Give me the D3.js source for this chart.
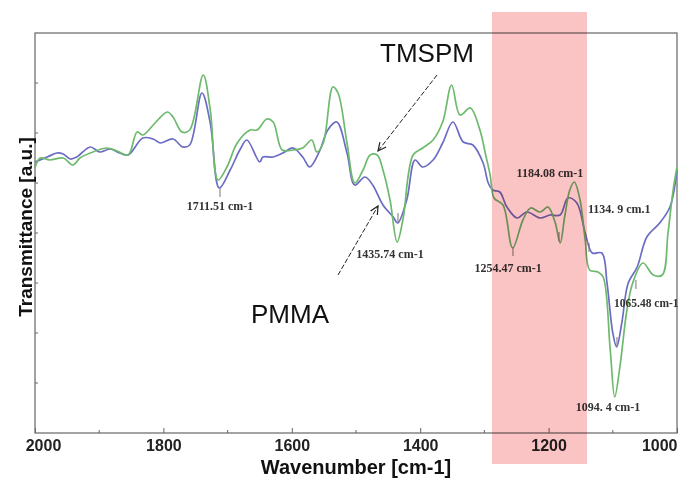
<!DOCTYPE html>
<html>
<head>
<meta charset="utf-8">
<script src="https://cdn.jsdelivr.net/npm/d3@7"></script>
<style>
  body { margin: 0; background: #fff; }
  svg { display: block; }
  .axis path, .axis line { stroke: #666; }
  .axis text { font-family: "Liberation Sans", Arial, sans-serif; font-weight: bold; font-size: 16px; fill: #222; }
  .peak { font-family: "Liberation Serif", "Times New Roman", serif; font-weight: bold; font-size: 12px; fill: #333; }
  .name { font-family: "Liberation Sans", Arial, sans-serif; font-size: 26px; fill: #111; }
  .title { font-family: "Liberation Sans", Arial, sans-serif; font-weight: bold; font-size: 20px; fill: #111; }
</style>
</head>
<body>
<svg id="chart" width="678" height="481"></svg>
<script>
"use strict";

// PMMA spectrum (blue), [wavenumber, transmittance a.u.]
var pmmaWn  = [2000, 1981, 1966, 1956, 1945, 1935, 1914, 1899, 1883, 1868, 1855, 1832, 1816, 1805, 1785, 1770, 1759,
               1740, 1727, 1713, 1696, 1681, 1670, 1650, 1645, 1629, 1614, 1598, 1583, 1572, 1556, 1544, 1530, 1514,
               1502, 1486, 1474, 1458, 1442, 1435, 1421, 1408, 1396, 1380, 1365, 1349, 1333, 1318, 1302, 1294, 1287,
               1276, 1265, 1249, 1234, 1213, 1198, 1182, 1170, 1156, 1143, 1132, 1117, 1109, 1100, 1094, 1086, 1076,
               1062, 1047, 1027, 1011, 1000];
var pmmaVal = [5.42, 5.52, 5.60, 5.58, 5.48, 5.52, 5.72, 5.62, 5.68, 5.60, 5.56, 5.90, 5.88, 5.80, 5.88, 5.72, 5.76,
               6.80, 6.20, 4.90, 5.26, 5.66, 5.86, 5.42, 5.52, 5.52, 5.60, 5.70, 5.52, 5.32, 5.66, 6.06, 6.22, 5.60,
               4.96, 5.12, 4.96, 4.56, 4.32, 4.20, 4.66, 5.46, 5.32, 5.46, 5.80, 6.22, 5.82, 5.76, 5.40, 5.00, 4.86,
               4.82, 4.52, 4.30, 4.42, 4.30, 4.36, 4.36, 4.70, 4.60, 4.00, 3.60, 3.60, 3.00, 2.00, 1.72, 2.20, 3.00,
               3.32, 3.92, 4.20, 4.52, 5.26];

// TMSPM spectrum (green)
var tmspmWn  = [2000, 1992, 1977, 1956, 1941, 1930, 1914, 1888, 1872, 1855, 1841, 1832, 1813, 1794, 1785, 1771, 1759,
                1738, 1727, 1715, 1701, 1685, 1665, 1654, 1639, 1629, 1615, 1598, 1583, 1569, 1561, 1551, 1536, 1528,
                1514, 1502, 1489, 1478, 1467, 1458, 1447, 1436, 1427, 1411, 1396, 1380, 1365, 1351, 1338, 1322, 1307,
                1298, 1291, 1285, 1271, 1256, 1240, 1228, 1213, 1201, 1190, 1182, 1175, 1167, 1160, 1151, 1143, 1136,
                1123, 1115, 1104, 1097, 1089, 1078, 1069, 1053, 1037, 1023, 1014, 1006, 1000];
var tmspmVal = [5.30, 5.50, 5.46, 5.50, 5.36, 5.50, 5.60, 5.70, 5.64, 5.56, 6.02, 5.96, 6.20, 6.42, 6.32, 6.02, 6.06,
                7.16, 6.46, 5.06, 5.32, 5.80, 6.06, 6.06, 6.28, 6.22, 5.66, 5.66, 5.70, 5.86, 5.62, 5.80, 6.92, 6.80,
                5.80, 5.00, 5.26, 5.56, 5.56, 5.26, 4.66, 3.82, 4.26, 5.56, 5.70, 5.86, 6.22, 6.96, 6.36, 6.50, 6.06,
                5.56, 5.16, 4.70, 4.56, 3.70, 4.26, 4.50, 4.42, 4.52, 4.22, 3.80, 4.32, 4.86, 5.02, 4.66, 3.86, 3.26,
                3.22, 3.12, 1.66, 0.72, 1.32, 2.46, 3.00, 3.40, 3.16, 3.16, 4.00, 4.86, 5.32];

// peak annotations
var peakText  = ["1711.51 cm-1", "1435.74 cm-1", "1254.47 cm-1", "1184.08 cm-1", "1134. 9 cm.1", "1065.48 cm-1", "1094. 4 cm-1"];
var peakMark  = [1711.8, 1434.6, 1255.5, 1183.8, 1137, 1064, 1093.5];
var peakTop   = [4.90, 4.40, 3.72, 4.02, 3.80, 3.06, 1.92];
var labelWn   = [1711.8, 1447, 1263, 1198, 1090, 1098, 1107.5];
var labelVal  = [4.46, 3.50, 3.22, 5.12, 4.40, 2.52, 0.44];

var majorTicks = [2000, 1800, 1600, 1400, 1200, 1000];
var minorTicks = [1900, 1700, 1500, 1300, 1100];
var yTicks = [1, 2, 3, 4, 5, 6, 7];

// highlighted band
var band = [1288.2, 1140.2];

var svg = d3.select("#chart");
var W = 678, H = 481;
var frame = { x0: 35, x1: 677, y0: 33, y1: 433 };

var x = d3.scaleLinear().domain([2000, 1000]).range([frame.x0, frame.x1]);
var y = d3.scaleLinear().domain([0, 8]).range([frame.y1, frame.y0]);

svg.append("rect").attr("width", W).attr("height", H).attr("fill", "#fff");

// frame
svg.append("rect")
  .attr("x", frame.x0).attr("y", frame.y0)
  .attr("width", frame.x1 - frame.x0).attr("height", frame.y1 - frame.y0)
  .attr("fill", "none").attr("stroke", "#666").attr("stroke-width", 1.2);

// x axis
var xAxis = d3.axisBottom(x).tickValues(majorTicks).tickFormat(d3.format("d"))
  .tickSizeInner(-5).tickSizeOuter(0).tickPadding(7);
var gx = svg.append("g").attr("class", "axis").attr("transform", "translate(0," + frame.y1 + ")").call(xAxis);
gx.select(".domain").remove();
gx.selectAll(".tick text").filter(function(d) { return d === 1000; }).attr("text-anchor", "end");
gx.selectAll(".tick text").filter(function(d) { return d === 2000; }).attr("dx", 8);

svg.append("g").selectAll("line").data(minorTicks).enter().append("line")
  .attr("x1", function(d) { return x(d); }).attr("x2", function(d) { return x(d); })
  .attr("y1", frame.y1).attr("y2", frame.y1 - 3)
  .attr("stroke", "#666");

// y ticks (no labels)
svg.append("g").selectAll("line").data(yTicks).enter().append("line")
  .attr("x1", frame.x0).attr("x2", frame.x0 + 3)
  .attr("y1", function(d) { return y(d); }).attr("y2", function(d) { return y(d); })
  .attr("stroke", "#666");

// spectra
var line = d3.line()
  .x(function(d) { return x(d[0]); })
  .y(function(d) { return y(d[1]); })
  .curve(d3.curveCatmullRom.alpha(0.5));

var pmma = d3.zip(pmmaWn, pmmaVal);
var tmspm = d3.zip(tmspmWn, tmspmVal);

svg.append("path").datum(pmma).attr("d", line)
  .attr("fill", "none").attr("stroke", "#6c6cc4").attr("stroke-width", 1.7);
svg.append("path").datum(tmspm).attr("d", line)
  .attr("fill", "none").attr("stroke", "#6dba6d").attr("stroke-width", 1.7);

// peak marks
svg.append("g").selectAll("line").data(peakMark).enter().append("line")
  .attr("x1", function(d) { return x(d); }).attr("x2", function(d) { return x(d); })
  .attr("y1", function(d, i) { return y(peakTop[i]); })
  .attr("y2", function(d, i) { return y(peakTop[i]) + 9; })
  .attr("stroke", "#777").attr("stroke-width", 1);

// peak labels
svg.append("g").selectAll("text").data(peakText).enter().append("text")
  .attr("class", "peak")
  .attr("x", function(d, i) { return x(labelWn[i]); })
  .attr("y", function(d, i) { return y(labelVal[i]); })
  .attr("text-anchor", function(d, i) { return i === 5 ? "start" : "middle"; })
  .style("font-size", function(d, i) { return i === 5 ? "11.5px" : null; })
  .text(function(d) { return d; });

// arrows
function arrow(from, to) {
  var x0 = x(from[0]), y0 = y(from[1]), x1 = x(to[0]), y1 = y(to[1]);
  var a = Math.atan2(y1 - y0, x1 - x0), L = 9, s = 0.45;
  var g = svg.append("g").attr("stroke", "#222").attr("fill", "none").attr("stroke-width", 1);
  g.append("line").attr("x1", x0).attr("y1", y0).attr("x2", x1).attr("y2", y1)
    .attr("stroke-dasharray", "5,2");
  g.append("path").attr("d",
      "M " + (x1 - L * Math.cos(a - s)) + " " + (y1 - L * Math.sin(a - s))
    + " L " + x1 + " " + y1
    + " L " + (x1 - L * Math.cos(a + s)) + " " + (y1 - L * Math.sin(a + s)))
    .attr("stroke-width", 1.2);
}
arrow([1373.8, 7.16], [1465.7, 5.64]);
arrow([1528, 3.16], [1465.7, 4.54]);

svg.append("text").attr("class", "name").attr("x", x(1462.6)).attr("y", y(7.42)).text("TMSPM");
svg.append("text").attr("class", "name").attr("x", x(1663.6)).attr("y", y(2.2)).text("PMMA");

// highlight band on top
svg.append("rect")
  .attr("x", x(band[0])).attr("width", x(band[1]) - x(band[0]))
  .attr("y", frame.y0 - 21).attr("height", frame.y1 - frame.y0 + 52)
  .attr("fill", "#fac4c4")
  .style("mix-blend-mode", "multiply");

// axis titles
svg.append("text").attr("class", "title")
  .attr("x", 356).attr("y", 474)
  .attr("text-anchor", "middle").text("Wavenumber [cm-1]");
svg.append("text").attr("class", "title")
  .attr("transform", "translate(32," + 227 + ") rotate(-90)")
  .attr("text-anchor", "middle").style("font-size", "19px").text("Transmittance [a.u.]");
</script>
</body>
</html>
